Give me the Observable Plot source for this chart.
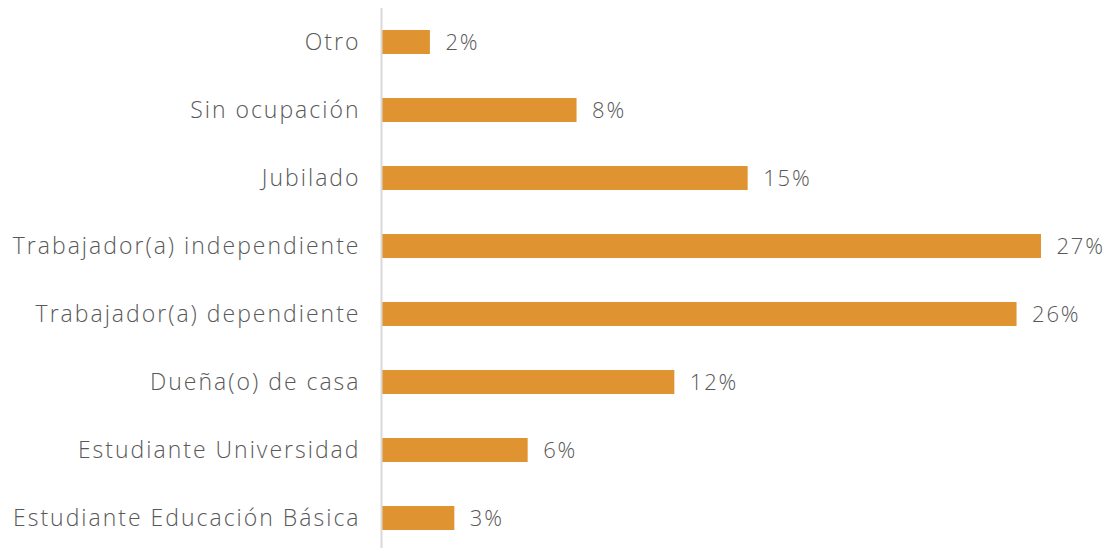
<!DOCTYPE html>
<html>
<head>
<meta charset="utf-8">
<script src="https://cdn.jsdelivr.net/npm/d3@7"></script>
<script src="https://cdn.jsdelivr.net/npm/@observablehq/plot@0.6"></script>
<style>
  html, body { margin: 0; padding: 0; background: #fff; }
  #chart svg text { font-weight: 300; }
  #chart svg g.vlabels text { letter-spacing: 1.8px; }
  #chart svg g[aria-label="y-axis tick label"] text { letter-spacing: 2px; }
</style>
</head>
<body>
<div id="chart"></div>
<script>
const categories = [
  "Otro",
  "Sin ocupación",
  "Jubilado",
  "Trabajador(a) independiente",
  "Trabajador(a) dependiente",
  "Dueña(o) de casa",
  "Estudiante Universidad",
  "Estudiante Educación Básica"
];
const values = [2, 8, 15, 27, 26, 12, 6, 3];
const valueLabels = ["2%", "8%", "15%", "27%", "26%", "12%", "6%", "3%"];

const data = categories.map((c, i) => ({category: c, value: values[i], label: valueLabels[i]}));

const font = "'Open Sans', sans-serif";
const chart = Plot.plot({
  width: 1111,
  height: 550,
  marginLeft: 381,
  marginRight: 70,
  marginTop: 8,
  marginBottom: 2,
  style: {fontFamily: font, fontSize: "22px", color: "#595959", background: "#fff"},
  x: {domain: [0, 27], axis: null},
  y: {domain: categories, range: [11, 549], paddingInner: 0.649, paddingOuter: 0.263, label: null},
  axis: null,
  marks: [
    Plot.barX(data, {y: "category", x: "value", fill: "#E09431"}),
    Plot.text(data, {y: "category", x: "value", text: "label", textAnchor: "start", dx: 15, fill: "#595959", fontSize: 22, className: "vlabels"}),
    Plot.axisY({tickSize: 0, tickPadding: 21, fontSize: 23, fill: "#595959", label: null}),
    Plot.ruleX([0], {stroke: "#d9d9d9", strokeWidth: 2})
  ]
});
document.getElementById("chart").appendChild(chart);
</script>
</body>
</html>
